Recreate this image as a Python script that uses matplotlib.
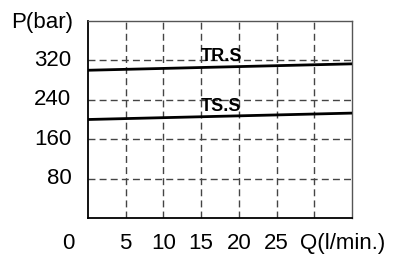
import matplotlib
matplotlib.use("Agg")
import matplotlib.pyplot as plt

flow = [0, 35]
trs = [300, 313]
tss = [200, 213]
yticks = [80, 160, 240, 320]
xticks = [5, 10, 15, 20, 25, 30]
xlabels = ["5", "10", "15", "20", "25"]

plt.rcParams['font.family'] = ['Liberation Sans', 'DejaVu Sans']
fig = plt.figure(figsize=(3.93, 2.59), dpi=100)
ax = fig.add_axes([88/393, 1-218/259, (352-88)/393, (218-21)/259])
ax.set_xlim(0, 35)
ax.set_ylim(0, 400)

for x in xticks:
    ax.axvline(x, color='#444444', lw=1.0, ls=(0, (5, 3)), zorder=1)
for y in yticks:
    ax.axhline(y, color='#444444', lw=1.0, ls=(0, (5, 3)), zorder=1)

ax.plot(flow, trs, color='black', lw=2.0, zorder=3)
ax.plot(flow, tss, color='black', lw=2.0, zorder=3)

ax.text(15.0, 311, "TR.S", fontsize=13, fontweight='bold', ha='left', va='bottom', zorder=4)
ax.text(15.0, 210, "TS.S", fontsize=13, fontweight='bold', ha='left', va='bottom', zorder=4)

ax.set_xticks([])
ax.set_yticks([])
for s in ['left', 'bottom']:
    ax.spines[s].set_color('black')
    ax.spines[s].set_linewidth(1.3)
for s in ['top', 'right']:
    ax.spines[s].set_color('#555555')
    ax.spines[s].set_linewidth(1.0)

fs = 16
for y in yticks:
    ax.text(-2.2, y, str(y), fontsize=fs, ha='right', va='center', clip_on=False)
ax.text(-2.0, 396, "P(bar)", fontsize=fs, ha='right', va='center', clip_on=False)
ax.text(-2.65, -51, "0", fontsize=fs, ha='center', va='center', clip_on=False)
for x, l in zip(xticks, xlabels):
    ax.text(x, -51, l, fontsize=fs, ha='center', va='center', clip_on=False)
ax.text(33.7, -51, "Q(l/min.)", fontsize=fs, ha='center', va='center', clip_on=False)

fig.savefig("out.png", dpi=100)
